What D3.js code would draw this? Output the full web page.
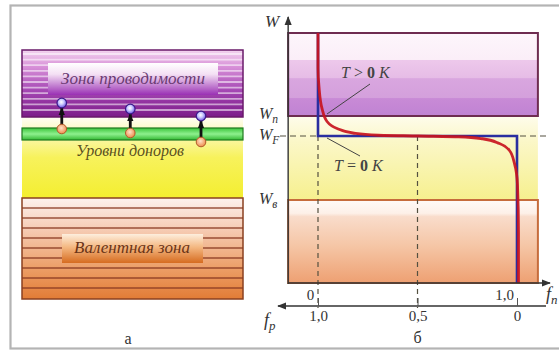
<!DOCTYPE html>
<html>
<head>
<meta charset="utf-8">
<script src="https://cdn.jsdelivr.net/npm/d3@7"></script>
<style>
  body { margin: 0; background: #fff; }
  svg { display: block; }
  text { font-family: "Liberation Serif", "Times New Roman", "DejaVu Serif", serif; }
</style>
</head>
<body>
<svg id="chart"></svg>
<script>
// energy levels (arbitrary units, W axis 0..10)
const W_TOP = 10, W_C = 6.68, W_F = 5.88, W_V = 3.32, W_BOT = 0;

// Fermi-Dirac curve (f_n, W)
const fermiF = [0, 0, 0.005, 0.02, 0.045, 0.095, 0.18, 0.3, 0.5, 0.7, 0.82, 0.905, 0.955, 0.98, 0.995, 1, 1];
const fermiW = [10, 8.6, 7.84, 6.98, 6.46, 6.18, 5.99, 5.91, 5.88, 5.85, 5.77, 5.58, 5.3, 4.78, 3.92, 2.0, 0];

// T = 0 K step
const stepF = [0, 0, 1, 1];
const stepW = [W_TOP, W_F, W_F, W_BOT];

// tick labels
const fnTicks = [0, 1];
const fnLabels = ["0", "1,0"];
const fpTicks = [1, 0.5, 0];
const fpLabels = ["1,0", "0,5", "0"];
const dashTicks = [0, 0.5]; // f_n positions of the vertical dashed guides

// left panel (band diagram)
const leftCond = [6.64, 9.32];
const leftDonor = [5.72, 6.2];
const leftVal = [-0.64, 3.4];
const electronPos = [0.18, 0.49, 0.81];
const electronUp = [7.2, 6.96, 6.68];
const electronDown = [6.16, 6.0, 5.64];

const width = 559, height = 352;
const svg = d3.select("#chart").attr("width", width).attr("height", height);
const defs = svg.append("defs");

function grad(id, stops) {
  const g = defs.append("linearGradient").attr("id", id)
    .attr("x1", 0).attr("y1", 0).attr("x2", 0).attr("y2", 1);
  stops.forEach(s => g.append("stop").attr("offset", s[0]).attr("stop-color", s[1]));
}
grad("condR", [[0, "#fdf6fb"], [0.32, "#fbeef8"], [0.33, "#edc8eb"], [0.54, "#e6bce6"], [0.55, "#d9a6df"], [0.78, "#d4a0dc"], [0.79, "#c88ad6"], [1, "#c083d3"]]);
grad("yelR", [[0, "#fefcec"], [0.3, "#fbf7c8"], [1, "#f6f08e"]]);
grad("valR", [[0, "#fffaf7"], [0.16, "#fdf0e8"], [0.2, "#f9dccb"], [0.55, "#f5c6a6"], [1, "#eea072"]]);
grad("condL", [[0, "#f3d6ef"], [0.25, "#d890d8"], [0.6, "#a548b4"], [1, "#7c1c88"]]);
grad("condBox", [[0, "#ffffff"], [0.35, "#f4e0f4"], [1, "#9a30b4"]]);
grad("yelL", [[0, "#fffef4"], [0.2, "#fbf8b8"], [0.5, "#f7f25c"], [1, "#f4ee30"]]);
grad("green", [[0, "#3bc43b"], [0.5, "#8ef08e"], [1, "#34b834"]]);
grad("valL", [[0, "#fdf2ee"], [0.3, "#f6cdb6"], [0.7, "#ec9e66"], [1, "#e27c36"]]);
grad("valBox", [[0, "#fdeedd"], [0.45, "#f4b882"], [1, "#d66c20"]]);
const rg = defs.append("radialGradient").attr("id", "elec").attr("cx", 0.45).attr("cy", 0.4).attr("r", 0.6);
rg.append("stop").attr("offset", 0).attr("stop-color", "#ffffff");
rg.append("stop").attr("offset", 0.45).attr("stop-color", "#c8c8ff");
rg.append("stop").attr("offset", 1).attr("stop-color", "#6a50e0");
const rh = defs.append("radialGradient").attr("id", "hole").attr("cx", 0.45).attr("cy", 0.4).attr("r", 0.6);
rh.append("stop").attr("offset", 0).attr("stop-color", "#ffe2c8");
rh.append("stop").attr("offset", 1).attr("stop-color", "#ee8a4a");

function marker(id, color, size) {
  defs.append("marker").attr("id", id)
    .attr("viewBox", "0 0 10 10").attr("refX", 9).attr("refY", 5)
    .attr("markerWidth", size).attr("markerHeight", size).attr("orient", "auto")
    .attr("markerUnits", "userSpaceOnUse")
    .append("path").attr("d", "M0,1L10,5L0,9Z").attr("fill", color);
}
marker("arrAxis", "#333", 9);
marker("arrBlack", "#111", 8);

// outer frame
svg.append("rect").attr("x", 10.5).attr("y", 5.5).attr("width", 560).attr("height", 343)
  .attr("fill", "none").attr("stroke", "#b4b4b4").attr("stroke-width", 2.2);

// ---------------- right panel ----------------
const y = d3.scaleLinear().domain([W_BOT, W_TOP]).range([283, 33]);
const x = d3.scaleLinear().domain([0, 1]).range([318, 517]);
const xp = d3.scaleLinear().domain([1, 0]).range([318, 517]);
const fMin = -0.15, fMax = 1.105;

const right = svg.append("g");
right.append("rect").attr("x", x(fMin)).attr("y", y(W_C)).attr("width", x(fMax) - x(fMin))
  .attr("height", y(W_V) - y(W_C)).attr("fill", "url(#yelR)");
right.append("rect").attr("x", x(fMin)).attr("y", y(W_V)).attr("width", x(fMax) - x(fMin))
  .attr("height", y(W_BOT) - y(W_V)).attr("fill", "url(#valR)")
  .attr("stroke", "#c66c3c").attr("stroke-width", 2);
right.append("rect").attr("x", x(fMin)).attr("y", y(W_TOP)).attr("width", x(fMax) - x(fMin))
  .attr("height", y(W_C) - y(W_TOP)).attr("fill", "url(#condR)")
  .attr("stroke", "#6e2c50").attr("stroke-width", 2);

// Fermi level dashed
right.append("line").attr("x1", 280).attr("x2", 546).attr("y1", y(W_F)).attr("y2", y(W_F))
  .attr("stroke", "#555040").attr("stroke-width", 1.2).attr("stroke-dasharray", "6,4");

// vertical dashed guides
right.selectAll(".guide").data(dashTicks).join("line").attr("class", "guide")
  .attr("x1", d => x(d)).attr("x2", d => x(d)).attr("y1", y(W_F)).attr("y2", 308)
  .attr("stroke", "#555040").attr("stroke-width", 1.2).attr("stroke-dasharray", "5,4");

// T = 0 K step (blue) and T > 0 K curve (red)
const stepLine = d3.line().x(d => x(d[0])).y(d => y(d[1]));
right.append("path").datum(d3.zip(stepF, stepW)).attr("d", stepLine)
  .attr("fill", "none").attr("stroke", "#2a2ea0").attr("stroke-width", 2.6);
const fermiLine = d3.line().x(d => x(d[0]) + d[0] * 1.5).y(d => y(d[1])).curve(d3.curveMonotoneY);
right.append("path").datum(d3.zip(fermiF, fermiW)).attr("d", fermiLine)
  .attr("fill", "none").attr("stroke", "#c8141e").attr("stroke-width", 2.8).attr("stroke-opacity", 0.92);

// axes
right.append("line").attr("x1", x(fMin)).attr("x2", x(fMin)).attr("y1", y(W_BOT) + 1).attr("y2", 17)
  .attr("stroke", "#333").attr("stroke-width", 1.4).attr("marker-end", "url(#arrAxis)");
right.append("line").attr("x1", x(fMin)).attr("x2", 550).attr("y1", y(W_BOT)).attr("y2", y(W_BOT))
  .attr("stroke", "#333").attr("stroke-width", 1.4).attr("marker-end", "url(#arrAxis)");
right.append("line").attr("x1", 546).attr("x2", 278).attr("y1", 306).attr("y2", 306)
  .attr("stroke", "#333").attr("stroke-width", 1.4).attr("marker-end", "url(#arrAxis)");

const fnAxis = d3.axisBottom(x).tickValues(fnTicks).tickSize(0).tickPadding(6)
  .tickFormat((d, i) => fnLabels[i]);
const gfn = right.append("g").attr("transform", `translate(0,${y(W_BOT)})`).call(fnAxis);
gfn.attr("font-family", null);
gfn.select(".domain").remove();
gfn.selectAll("text").attr("dx", (d, i) => i === 0 ? -8 : -13)
  .attr("font-size", 15).attr("fill", "#333");

const fpAxis = d3.axisBottom(xp).tickValues(fpTicks).tickSizeInner(-8).tickSizeOuter(0).tickPadding(4)
  .tickFormat((d, i) => fpLabels[i]);
const gfp = right.append("g").attr("transform", "translate(0,306)").call(fpAxis);
gfp.attr("font-family", null);
gfp.select(".domain").remove();
gfp.selectAll("line").attr("stroke", "#555");
gfp.selectAll("text").attr("font-size", 15).attr("fill", "#333");

// axis names and levels
function sub(g, xx, yy, main, s, size, anchor) {
  const t = g.append("text").attr("x", xx).attr("y", yy).attr("font-size", size)
    .attr("font-style", "italic").attr("fill", "#333").attr("text-anchor", anchor || "start");
  t.append("tspan").text(main);
  t.append("tspan").attr("dy", 4).attr("font-size", size * 0.72).text(s);
  return t;
}
right.append("text").attr("x", 265).attr("y", 27).attr("font-size", 17).attr("font-style", "italic")
  .attr("fill", "#333").text("W");
sub(right, 259, y(W_C) + 3, "W", "п", 16);
sub(right, 259, y(W_F) + 4, "W", "F", 16);
sub(right, 259, y(W_V) + 4, "W", "в", 16);
sub(right, 546, 300, "f", "n", 18);
sub(right, 264, 326, "f", "p", 18);
right.append("text").attr("x", x(0.5)).attr("y", 343).attr("text-anchor", "middle")
  .attr("font-size", 16).attr("fill", "#333").text("б");

// temperature labels
function tLabel(xx, yy, sign) {
  const t = right.append("text").attr("x", xx).attr("y", yy).attr("font-size", 16).attr("fill", "#444");
  t.append("tspan").attr("font-style", "italic").text("T");
  t.append("tspan").text(" " + sign + " ");
  t.append("tspan").attr("font-weight", "bold").text("0");
  t.append("tspan").attr("font-style", "italic").text(" K");
}
tLabel(341, 78, ">");
tLabel(334, 171, "=");
right.append("line").attr("x1", 370).attr("y1", 84).attr("x2", 327).attr("y2", 114)
  .attr("stroke", "#444").attr("stroke-width", 1);
right.append("line").attr("x1", 327).attr("y1", 138).attr("x2", 360).attr("y2", 156)
  .attr("stroke", "#444").attr("stroke-width", 1);

// ---------------- left panel ----------------
const yl = y;
const xl = d3.scaleLinear().domain([0, 1]).range([22, 243]);
const left = svg.append("g");

left.append("rect").attr("x", xl(0)).attr("y", yl(leftCond[0])).attr("width", xl(1) - xl(0))
  .attr("height", yl(leftVal[1]) - yl(leftCond[0])).attr("fill", "url(#yelL)");

// conduction band with stripes
left.append("rect").attr("x", xl(0)).attr("y", yl(leftCond[1])).attr("width", xl(1) - xl(0))
  .attr("height", yl(leftCond[0]) - yl(leftCond[1])).attr("fill", "url(#condL)");
const condStripes = d3.range(yl(leftCond[1]) + 4, yl(leftCond[0]) - 2, 5.6);
left.selectAll(".cs").data(condStripes).join("line").attr("class", "cs")
  .attr("x1", xl(0)).attr("x2", xl(1)).attr("y1", d => d).attr("y2", d => d)
  .attr("stroke", "#fff").attr("stroke-opacity", 0.55).attr("stroke-width", 1.8);
left.append("rect").attr("x", xl(0)).attr("y", yl(leftCond[1])).attr("width", xl(1) - xl(0))
  .attr("height", yl(leftCond[0]) - yl(leftCond[1])).attr("fill", "none")
  .attr("stroke", "#6a1a6a").attr("stroke-width", 1.5);
left.append("rect").attr("x", 48).attr("y", 63).attr("width", 170).attr("height", 32)
  .attr("fill", "url(#condBox)");
left.append("text").attr("x", 133).attr("y", 84).attr("text-anchor", "middle")
  .attr("font-size", 17).attr("font-style", "italic").attr("fill", "#6a3a72")
  .text("Зона проводимости");

// donor level
left.append("rect").attr("x", xl(0)).attr("y", yl(leftDonor[1])).attr("width", xl(1) - xl(0))
  .attr("height", yl(leftDonor[0]) - yl(leftDonor[1])).attr("fill", "url(#green)")
  .attr("stroke", "#1f7a1f").attr("stroke-width", 1.2);
left.append("text").attr("x", 130).attr("y", 156).attr("text-anchor", "middle")
  .attr("font-size", 16).attr("font-style", "italic").attr("fill", "#5a5020")
  .text("Уровни доноров");

// valence band with stripes
left.append("rect").attr("x", xl(0)).attr("y", yl(leftVal[1])).attr("width", xl(1) - xl(0))
  .attr("height", yl(leftVal[0]) - yl(leftVal[1])).attr("fill", "url(#valL)");
const valStripes = d3.range(yl(leftVal[1]) + 10, yl(leftVal[0]) - 3, 10);
left.selectAll(".vs").data(valStripes).join("line").attr("class", "vs")
  .attr("x1", xl(0)).attr("x2", xl(1)).attr("y1", d => d).attr("y2", d => d)
  .attr("stroke", "#8a3a22").attr("stroke-opacity", 0.85).attr("stroke-width", 1.6);
left.append("rect").attr("x", xl(0)).attr("y", yl(leftVal[1])).attr("width", xl(1) - xl(0))
  .attr("height", yl(leftVal[0]) - yl(leftVal[1])).attr("fill", "none")
  .attr("stroke", "#8a4020").attr("stroke-width", 1.5);
left.append("rect").attr("x", 62).attr("y", 234).attr("width", 141).attr("height", 29)
  .attr("fill", "url(#valBox)");
left.append("text").attr("x", 132).attr("y", 253).attr("text-anchor", "middle")
  .attr("font-size", 17).attr("font-style", "italic").attr("fill", "#6a3418")
  .text("Валентная зона");

// electrons jumping from donor level
const el = left.selectAll(".el").data(d3.zip(electronPos, electronUp, electronDown)).join("g").attr("class", "el");
el.append("line").attr("x1", d => xl(d[0])).attr("x2", d => xl(d[0]))
  .attr("y1", d => yl(d[2]) - 4).attr("y2", d => yl(d[1]) + 5)
  .attr("stroke", "#111").attr("stroke-width", 2.8).attr("marker-end", "url(#arrBlack)");
el.append("circle").attr("cx", d => xl(d[0])).attr("cy", d => yl(d[2])).attr("r", 4.8)
  .attr("fill", "url(#hole)").attr("stroke", "#b05a2a").attr("stroke-width", 1);
el.append("circle").attr("cx", d => xl(d[0])).attr("cy", d => yl(d[1])).attr("r", 4.8)
  .attr("fill", "url(#elec)").attr("stroke", "#3a1a8a").attr("stroke-width", 1.2);

left.append("text").attr("x", 128).attr("y", 344).attr("text-anchor", "middle")
  .attr("font-size", 16).attr("fill", "#333").text("а");
</script>
</body>
</html>
